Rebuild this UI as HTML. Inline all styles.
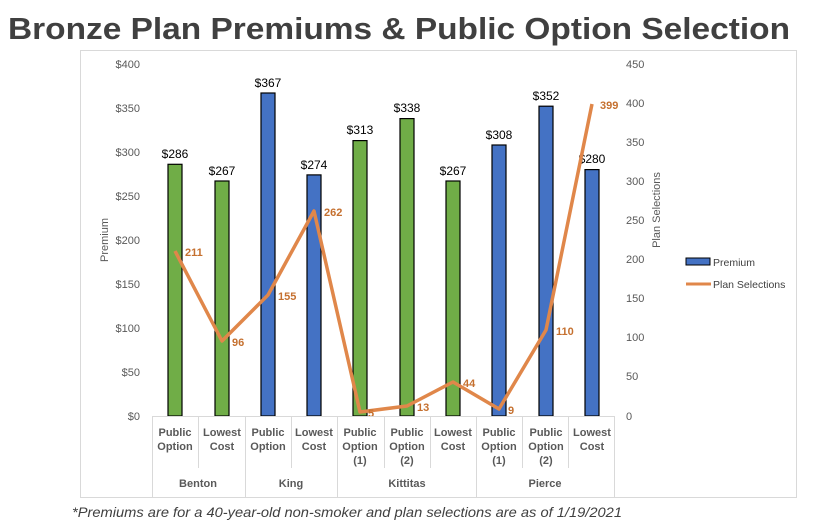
<!DOCTYPE html>
<html><head><meta charset="utf-8"><style>
body{margin:0;background:#fff;width:814px;height:530px;overflow:hidden}
svg{display:block;font-family:"Liberation Sans",sans-serif}
</style></head><body>
<svg width="814" height="530" viewBox="0 0 814 530">
<text x="8" y="39" textLength="782" lengthAdjust="spacingAndGlyphs" font-size="31" font-weight="bold" fill="#404040">Bronze Plan Premiums &amp; Public Option Selection</text>
<rect x="80.5" y="50.5" width="716" height="447" fill="none" stroke="#d9d9d9"/>
<g font-size="11" fill="#595959" text-anchor="end">
<text x="140" y="68">$400</text><text x="140" y="112">$350</text><text x="140" y="156">$300</text><text x="140" y="200">$250</text><text x="140" y="244">$200</text><text x="140" y="288">$150</text><text x="140" y="332">$100</text><text x="140" y="376">$50</text><text x="140" y="420">$0</text>
</g>
<g font-size="11" fill="#595959">
<text x="626" y="68">450</text><text x="626" y="107">400</text><text x="626" y="146">350</text><text x="626" y="185">300</text><text x="626" y="224">250</text><text x="626" y="263">200</text><text x="626" y="302">150</text><text x="626" y="341">100</text><text x="626" y="380">50</text><text x="626" y="420">0</text>
</g>
<text transform="translate(108,240) rotate(-90)" text-anchor="middle" font-size="11" fill="#595959">Premium</text>
<text transform="translate(660,210) rotate(-90)" text-anchor="middle" font-size="11" fill="#595959">Plan Selections</text>
<g stroke="#000" stroke-width="1.2">
<rect x="168" y="164.3" width="14" height="251.7" fill="#70ad47"/>
<rect x="215" y="181" width="14" height="235" fill="#70ad47"/>
<rect x="261" y="93" width="14" height="323" fill="#4472c4"/>
<rect x="307" y="174.9" width="14" height="241.1" fill="#4472c4"/>
<rect x="353" y="140.6" width="14" height="275.4" fill="#70ad47"/>
<rect x="400" y="118.6" width="14" height="297.4" fill="#70ad47"/>
<rect x="446" y="181" width="14" height="235" fill="#70ad47"/>
<rect x="492" y="145" width="14" height="271" fill="#4472c4"/>
<rect x="539" y="106.2" width="14" height="309.8" fill="#4472c4"/>
<rect x="585" y="169.6" width="14" height="246.4" fill="#4472c4"/>
</g>
<g font-size="12" fill="#000" text-anchor="middle">
<text x="175" y="158">$286</text><text x="222" y="175">$267</text><text x="268" y="87">$367</text><text x="314" y="169">$274</text><text x="360" y="134">$313</text><text x="407" y="112">$338</text><text x="453" y="175">$267</text><text x="499" y="139">$308</text><text x="546" y="100">$352</text><text x="592" y="163">$280</text>
</g>
<polyline fill="none" stroke="#e0874a" stroke-width="3.5" stroke-linejoin="round" points="175,251 222,341 268,295 314,211 360,412 407,406 453,382 499,409 546,330 592,104"/>
<g font-size="11" font-weight="bold" fill="#c5702f">
<text x="185" y="256">211</text><text x="232" y="346">96</text><text x="278" y="300">155</text><text x="324" y="216">262</text><text x="368" y="417">5</text><text x="417" y="411">13</text><text x="463" y="387">44</text><text x="508" y="414">9</text><text x="556" y="335">110</text><text x="600" y="109">399</text>
</g>
<line x1="152" y1="416.5" x2="615" y2="416.5" stroke="#d9d9d9"/>
<g stroke="#d9d9d9">
<line x1="152.5" y1="416" x2="152.5" y2="497"/><line x1="198.5" y1="416" x2="198.5" y2="468"/><line x1="245.5" y1="416" x2="245.5" y2="497"/><line x1="291.5" y1="416" x2="291.5" y2="468"/><line x1="337.5" y1="416" x2="337.5" y2="497"/><line x1="384.5" y1="416" x2="384.5" y2="468"/><line x1="430.5" y1="416" x2="430.5" y2="468"/><line x1="476.5" y1="416" x2="476.5" y2="497"/><line x1="522.5" y1="416" x2="522.5" y2="468"/><line x1="568.5" y1="416" x2="568.5" y2="468"/><line x1="614.5" y1="416" x2="614.5" y2="497"/>
</g>
<g font-size="11" font-weight="bold" fill="#595959" text-anchor="middle">
<text x="175" y="436">Public</text><text x="175" y="450">Option</text>
<text x="222" y="436">Lowest</text><text x="222" y="450">Cost</text>
<text x="268" y="436">Public</text><text x="268" y="450">Option</text>
<text x="314" y="436">Lowest</text><text x="314" y="450">Cost</text>
<text x="360" y="436">Public</text><text x="360" y="450">Option</text><text x="360" y="464">(1)</text>
<text x="407" y="436">Public</text><text x="407" y="450">Option</text><text x="407" y="464">(2)</text>
<text x="453" y="436">Lowest</text><text x="453" y="450">Cost</text>
<text x="499" y="436">Public</text><text x="499" y="450">Option</text><text x="499" y="464">(1)</text>
<text x="546" y="436">Public</text><text x="546" y="450">Option</text><text x="546" y="464">(2)</text>
<text x="592" y="436">Lowest</text><text x="592" y="450">Cost</text>
<text x="198" y="487">Benton</text><text x="291" y="487">King</text><text x="407" y="487">Kittitas</text><text x="545" y="487">Pierce</text>
</g>
<rect x="686" y="258" width="24" height="7" fill="#4472c4" stroke="#000" stroke-width="1"/>
<text x="713" y="266" font-size="10.5" fill="#404040">Premium</text>
<line x1="686" y1="284" x2="711" y2="284" stroke="#e0874a" stroke-width="3"/>
<text x="713" y="288" font-size="10.5" fill="#404040">Plan Selections</text>
<text x="72" y="517" textLength="550" lengthAdjust="spacingAndGlyphs" font-size="14" font-style="italic" fill="#404040">*Premiums are for a 40-year-old non-smoker and plan selections are as of 1/19/2021</text>
</svg>
</body></html>
